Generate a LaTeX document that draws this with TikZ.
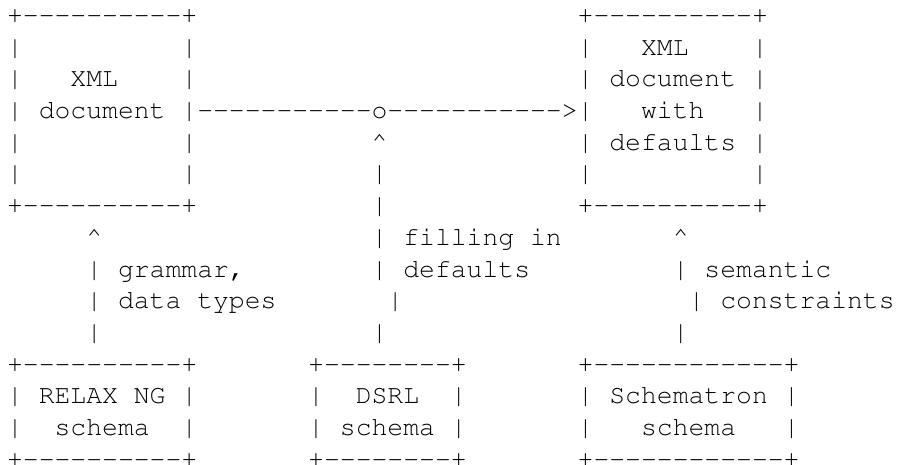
\documentclass[tikz,border=0pt]{standalone}
\usepackage[T1]{fontenc}
\newlength\cw
\setlength\cw{15.85pt}
\def\fwloop#1{\ifx\relax#1\else\makebox[\cw][c]{#1}\expandafter\fwloop\fi}
\newcommand\fw[1]{\fwloop#1\relax}
\newcommand\seg[4]{\node[asc] (#1) at (#2,#3-1) {\fw{#4}};}
\newcommand\up{\textasciicircum}
\begin{document}
\begin{tikzpicture}[x=15.85pt,y=-31.7pt,
  asc/.style={anchor=base west,inner sep=0pt,outer sep=0pt,font=\fontencoding{T1}\fontfamily{pcr}\fontseries{m}\fontshape{n}\fontsize{26.4pt}{31.7pt}\selectfont,text=black}]
\useasboundingbox[fill=white] (0pt,0pt) rectangle (898pt,-465pt);
\begin{scope}[shift={(7.07pt,-23.5pt)}]
% row 1
\seg{a1}{0}{1}{+----------+}
\seg{b1}{36}{1}{+----------+}
% row 2
\seg{a2l}{0}{2}{|}\seg{a2r}{11}{2}{|}
\seg{b2l}{36}{2}{|}\seg{b2t}{40}{2}{XML}\seg{b2r}{47}{2}{|}
% row 3
\seg{a3l}{0}{3}{|}\seg{a3t}{4}{3}{XML}\seg{a3r}{11}{3}{|}
\seg{b3l}{36}{3}{|}\seg{b3t}{38}{3}{document}\seg{b3r}{47}{3}{|}
% row 4
\seg{a4l}{0}{4}{|}\seg{a4t}{2}{4}{document}
\seg{arrow}{11}{4}{|-----------o----------->|}
\seg{b4t}{40}{4}{with}\seg{b4r}{47}{4}{|}
% row 5
\seg{a5l}{0}{5}{|}\seg{a5r}{11}{5}{|}\seg{c5}{23}{5}{\up}
\seg{b5l}{36}{5}{|}\seg{b5t}{38}{5}{defaults}\seg{b5r}{47}{5}{|}
% row 6
\seg{a6l}{0}{6}{|}\seg{a6r}{11}{6}{|}\seg{c6}{23}{6}{|}
\seg{b6l}{36}{6}{|}\seg{b6r}{47}{6}{|}
% row 7
\seg{a7}{0}{7}{+----------+}\seg{c7}{23}{7}{|}\seg{b7}{36}{7}{+----------+}
% row 8
\seg{l8}{5}{8}{\up}\seg{c8}{23}{8}{|}\seg{c8t}{25}{8}{filling~in}\seg{r8}{42}{8}{\up}
% row 9
\seg{l9}{5}{9}{|}\seg{l9t}{7}{9}{grammar,}\seg{c9}{23}{9}{|}\seg{c9t}{25}{9}{defaults}
\seg{r9}{42}{9}{|}\seg{r9t}{44}{9}{semantic}
% row 10
\seg{l10}{5}{10}{|}\seg{l10t}{7}{10}{data~types}\seg{c10}{24}{10}{|}
\seg{r10}{43}{10}{|}\seg{r10t}{45}{10}{constraints}
% row 11
\seg{l11}{5}{11}{|}\seg{c11}{23}{11}{|}\seg{r11}{42}{11}{|}
% row 12
\seg{d12}{0}{12}{+----------+}\seg{e12}{19}{12}{+--------+}\seg{f12}{36}{12}{+------------+}
% row 13
\seg{d13l}{0}{13}{|}\seg{d13t}{2}{13}{RELAX~NG}\seg{d13r}{11}{13}{|}
\seg{e13l}{19}{13}{|}\seg{e13t}{22}{13}{DSRL}\seg{e13r}{28}{13}{|}
\seg{f13l}{36}{13}{|}\seg{f13t}{38}{13}{Schematron}\seg{f13r}{49}{13}{|}
% row 14
\seg{d14l}{0}{14}{|}\seg{d14t}{3}{14}{schema}\seg{d14r}{11}{14}{|}
\seg{e14l}{19}{14}{|}\seg{e14t}{21}{14}{schema}\seg{e14r}{28}{14}{|}
\seg{f14l}{36}{14}{|}\seg{f14t}{40}{14}{schema}\seg{f14r}{49}{14}{|}
% row 15
\seg{d15}{0}{15}{+----------+}\seg{e15}{19}{15}{+--------+}\seg{f15}{36}{15}{+------------+}
\end{scope}
\end{tikzpicture}
\end{document}
